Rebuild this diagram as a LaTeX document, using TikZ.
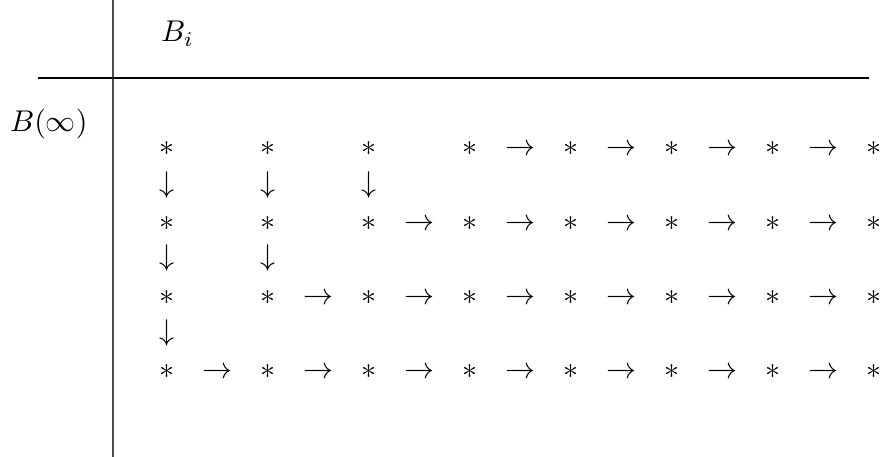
\documentclass[tikz,border=0pt]{standalone}
\begin{document}
\begin{tikzpicture}[x=0.33333pt,y=-0.33333pt,
  sym/.style={inner sep=0pt,outer sep=0pt,anchor=base},
  lbl/.style={inner sep=0pt,outer sep=0pt,anchor=base west},
  rule/.style={line width=0.4pt}]
\useasboundingbox (0,0) rectangle (882,457);
% rules
\coordinate (vt) at (113,0);
\coordinate (vb) at (113,457);
\coordinate (hl) at (38,78);
\coordinate (hr) at (869,78);
\draw[rule,black!70,line width=0.55pt] (vt) -- (vb);
\draw[rule] (hl) -- (hr);
% headers
\node[lbl] (bi) at (161,42) {$B_i$};
\node[lbl] (binf) at (10,132) {$B(\infty)$};
% stars
\foreach \r/\y in {1/148,2/223,3/297,4/371}{
  \foreach \c in {1,...,8}{
    \node[sym] (s\r\c) at ({167+101*(\c-1)},{\y+7.5}) {$\ast$};
  }
}
% right arrows: row r starts after column (5-r)
\foreach \r/\y/\s in {1/148/4,2/223/3,3/297/2,4/371/1}{
  \foreach \c in {\s,...,7}{
    \node[sym] (ra\r\c) at ({217.5+101*(\c-1)},{\y+7.5}) {$\rightarrow$};
  }
}
% down arrows
\foreach \c in {1,2,3}{
  \node[sym] (da1\c) at ({167+101*(\c-1)},{185+7.5}) {$\downarrow$};
}
\foreach \c in {1,2}{
  \node[sym] (da2\c) at ({167+101*(\c-1)},{258+7.5}) {$\downarrow$};
}
\node[sym] (da31) at (167,{333+7.5}) {$\downarrow$};
\end{tikzpicture}
\end{document}
